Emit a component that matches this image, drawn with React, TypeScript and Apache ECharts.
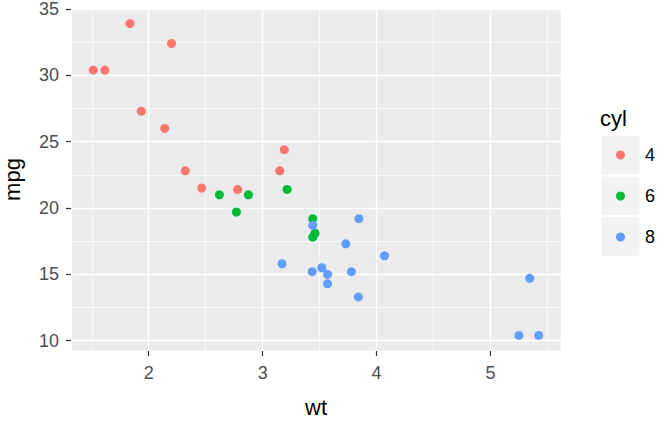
import React, { useEffect, useRef } from "react";
import * as echarts from "echarts";

// mtcars: weight (1000 lbs), mpg, cylinders
const wt = [2.62, 2.875, 2.32, 3.215, 3.44, 3.46, 3.57, 3.19, 3.15, 3.44, 3.44, 4.07, 3.73, 3.78, 5.25, 5.424, 5.345, 2.2, 1.615, 1.835, 2.465, 3.52, 3.435, 3.84, 3.845, 1.935, 2.14, 1.513, 3.17, 2.77, 3.57, 2.78];
const mpg = [21.0, 21.0, 22.8, 21.4, 18.7, 18.1, 14.3, 24.4, 22.8, 19.2, 17.8, 16.4, 17.3, 15.2, 10.4, 10.4, 14.7, 32.4, 30.4, 33.9, 21.5, 15.5, 15.2, 13.3, 19.2, 27.3, 26.0, 30.4, 15.8, 19.7, 15.0, 21.4];
const cyl = [6, 6, 4, 6, 8, 6, 8, 4, 4, 6, 6, 8, 8, 8, 8, 8, 8, 4, 4, 4, 4, 8, 8, 8, 8, 4, 4, 4, 8, 6, 8, 4];
const cylLevels = [4, 6, 8];
const cylColors = ["#F8766D", "#00BA38", "#619CFF"];

const xMin = 1.513 - 0.05 * (5.424 - 1.513);
const xMax = 5.424 + 0.05 * (5.424 - 1.513);
const yMin = 10.4 - 0.05 * (33.9 - 10.4);
const yMax = 33.9 + 0.05 * (33.9 - 10.4);

const FONT = "'Liberation Sans', Arial, sans-serif";

export default function App() {
  const ref = useRef<HTMLDivElement>(null);
  useEffect(() => {
    if (!ref.current) return;
    const chart = echarts.init(ref.current, undefined, { renderer: "svg" });
    const series = cylLevels.map((c, i) => ({
      type: "scatter",
      name: String(c),
      symbol: "circle",
      symbolSize: 9,
      itemStyle: { color: cylColors[i], opacity: 1 },
      data: wt
        .map((w, k) => (cyl[k] === c ? [w, mpg[k]] : null))
        .filter((d) => d !== null),
      z: 3,
    }));
    const axisCommon = {
      type: "value",
      axisLine: { show: false },
      axisTick: { show: true, length: 5, lineStyle: { color: "#333333", width: 1.2 } },
      axisLabel: {
        color: "#4D4D4D",
        fontSize: 18,
        lineHeight: 16,
        fontFamily: FONT,
        showMinLabel: false,
        showMaxLabel: false,
      },
      splitLine: { show: true, lineStyle: { color: "#FFFFFF", width: 1.4 } },
      minorTick: { show: false, splitNumber: 2 },
      minorSplitLine: { show: true, lineStyle: { color: "#FFFFFF", width: 0.7 } },
      nameLocation: "middle",
      nameTextStyle: { color: "#000000", fontSize: 22, fontFamily: FONT },
    };
    chart.setOption({
      animation: false,
      backgroundColor: "#FFFFFF",
      grid: {
        left: 71,
        right: 104,
        top: 8,
        bottom: 83,
        outerBoundsMode: "none",
        containLabel: false,
        show: true,
        backgroundColor: "#EBEBEB",
        borderWidth: 0,
      },
      xAxis: {
        ...axisCommon,
        min: xMin,
        max: xMax,
        splitNumber: 4,
        minInterval: 1,
        maxInterval: 1,
        name: "wt",
        nameGap: 45,
        axisLabel: { ...axisCommon.axisLabel, margin: 14 },
      },
      yAxis: {
        ...axisCommon,
        min: yMin,
        max: yMax,
        splitNumber: 5,
        minInterval: 5,
        maxInterval: 5,
        name: "mpg",
        nameGap: 48,
        axisLabel: { ...axisCommon.axisLabel, margin: 12 },
      },
      legend: {
        show: true,
        orient: "vertical",
        left: 616,
        top: 146,
        icon: "circle",
        itemWidth: 39,
        itemHeight: 9,
        itemGap: 23,
        padding: 0,
        textStyle: { color: "#000000", fontSize: 18, fontFamily: FONT },
        data: cylLevels.map(String),
        selectedMode: false,
      },
      graphic: [
        {
          type: "text",
          left: 600,
          top: 107,
          style: { text: "cyl", fill: "#000000", font: `22px ${FONT}` },
        },
        ...cylLevels.map((c, i) => ({
          type: "rect",
          shape: { x: 601, y: 135.5 + i * 40.6, width: 39, height: 39.6 },
          style: { fill: "#F2F2F2", stroke: "#FFFFFF", lineWidth: 1 },
          z: -1,
        })),
      ],
      series,
    });
    return () => chart.dispose();
  }, []);
  return (
    <div
      ref={ref}
      style={{ position: "absolute", left: 0, top: 0, width: 665, height: 434 }}
    />
  );
}
